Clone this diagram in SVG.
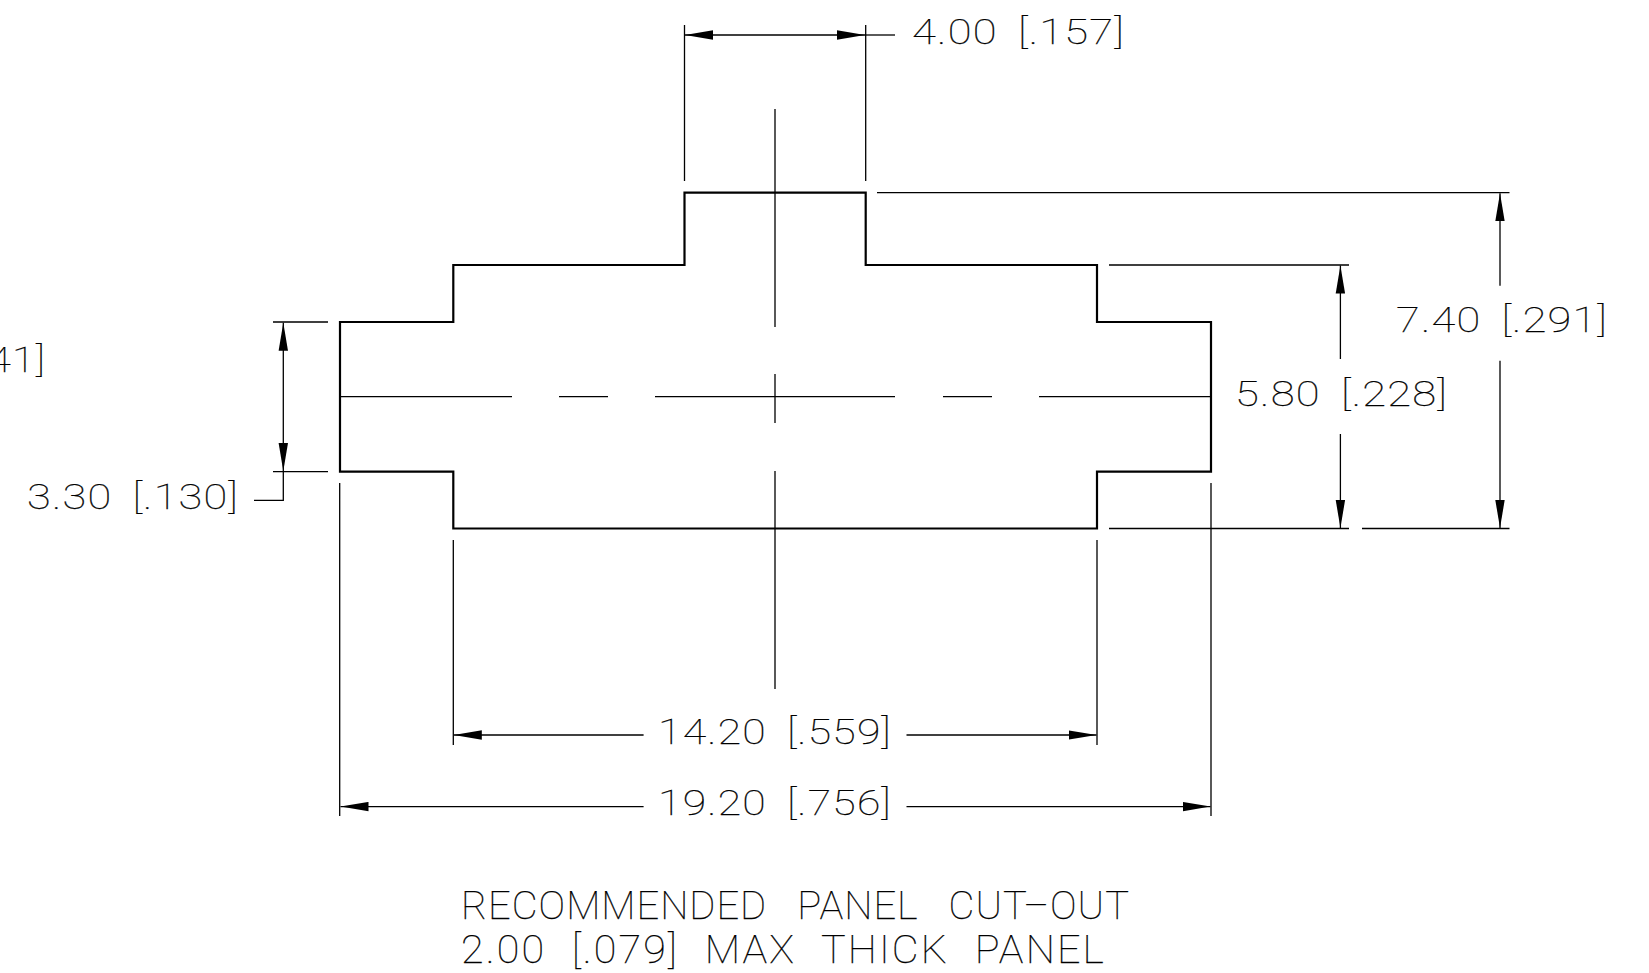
<svg xmlns="http://www.w3.org/2000/svg" width="1649" height="973" viewBox="0 0 1649 973">
<style>
text{font-family:"Roboto","Liberation Sans",sans-serif;font-weight:100;fill:#000;font-size:35px;word-spacing:7px;letter-spacing:1px;stroke:#000;stroke-width:.25}
.big{font-size:39px;word-spacing:19px;letter-spacing:1px}
.big2{font-size:39px;word-spacing:13px;letter-spacing:2px}
.l{stroke:#000;stroke-width:1.3;fill:none}
.p{stroke:#000;stroke-width:2.2;fill:none}
</style>
<defs>
<marker id="a" markerUnits="userSpaceOnUse" markerWidth="30" markerHeight="10" refX="28" refY="5" orient="auto-start-reverse"><path d="M0,.3 L28,5 L0,9.7Z" fill="#000"/></marker>
</defs>
<rect width="1649" height="973" fill="#fff"/>
<g id="profile"><path class="p" d="M340,322H453.3V265H684.5V192.7H865.7V265H1097V322H1211V471.7H1097V528.5H453.3V471.7H340Z"/></g>
<g id="connectors">
<path class="l" d="M775,109V327M775,374V423M775,471V689M340,396.7H512M559,396.7H608M655,396.7H895M943,396.7H992M1039,396.7H1211"/>
<path class="l" d="M684.5,25V181M865.7,25V181M877,192.7H1509.5M1109,265H1349M1109,528.5H1349M1362,528.5H1509.5M273,322H328M273,471.7H328M254,500.3H283.3V471.7M339.7,483V816M453.3,540V745M1097,540V745M1211,483V816"/>
<path class="l" marker-start="url(#a)" marker-end="url(#a)" d="M685,35H865"/>
<path class="l" d="M865,35H895"/>
<path class="l" marker-start="url(#a)" marker-end="url(#a)" d="M283.3,322.7V471"/>
<path class="l" marker-start="url(#a)" d="M1340.4,265.5V359"/>
<path class="l" marker-end="url(#a)" d="M1340.4,434V528"/>
<path class="l" marker-start="url(#a)" d="M1500,193.2V285.7"/>
<path class="l" marker-end="url(#a)" d="M1500,360.7V528"/>
<path class="l" marker-start="url(#a)" d="M453.8,735H643.6"/>
<path class="l" marker-end="url(#a)" d="M906.5,735H1096.5"/>
<path class="l" marker-start="url(#a)" d="M340.5,806.6H643.6"/>
<path class="l" marker-end="url(#a)" d="M906.5,806.6H1210.5"/>
</g>
<g id="labels">
<text x="912" y="44" textLength="213" lengthAdjust="spacingAndGlyphs">4.00 [.157]</text>
<text x="27" y="509" textLength="212" lengthAdjust="spacingAndGlyphs">3.30 [.130]</text>
<text x="-12" y="372" textLength="58" lengthAdjust="spacingAndGlyphs">41]</text>
<text x="1396" y="332" textLength="212" lengthAdjust="spacingAndGlyphs">7.40 [.291]</text>
<text x="1235" y="406" textLength="213" lengthAdjust="spacingAndGlyphs">5.80 [.228]</text>
<text x="658" y="744" textLength="234" lengthAdjust="spacingAndGlyphs">14.20 [.559]</text>
<text x="658" y="815" textLength="234" lengthAdjust="spacingAndGlyphs">19.20 [.756]</text>
<text class="big" x="461" y="919" textLength="669" lengthAdjust="spacingAndGlyphs">RECOMMENDED PANEL CUT–OUT</text>
<text class="big2" x="461" y="963" textLength="645" lengthAdjust="spacingAndGlyphs">2.00 [.079] MAX THICK PANEL</text>
</g>
</svg>
